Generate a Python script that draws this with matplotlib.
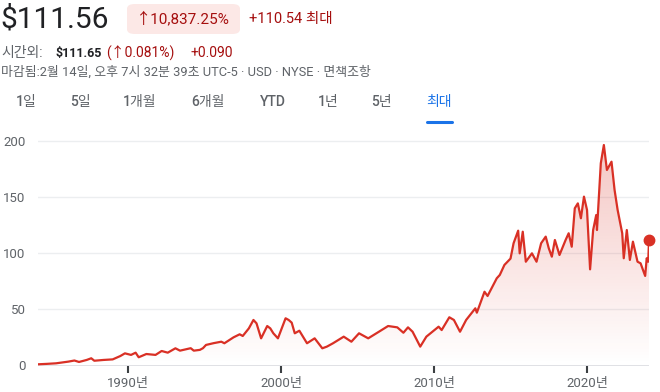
import numpy as np
import matplotlib
matplotlib.use('Agg')
import matplotlib.pyplot as plt
import matplotlib.colors as mcolors
from matplotlib.patches import FancyBboxPatch

plt.rcParams['font.family'] = ['Roboto', 'Noto Sans CJK KR', 'DejaVu Sans']

# price history (decimal year, USD)
years = [1984.1, 1984.7, 1985.3, 1986.1, 1986.5, 1986.8, 1987.3, 1987.6, 1987.8, 1988.4,
         1989.0, 1989.5, 1989.8, 1990.2, 1990.5, 1990.7, 1991.2, 1991.8, 1992.2, 1992.6,
         1993.1, 1993.4, 1994.1, 1994.3, 1994.7, 1994.9, 1995.1, 1995.6, 1996.1, 1996.3,
         1996.9, 1997.3, 1997.5, 1997.9, 1998.2, 1998.4, 1998.7, 1999.1, 1999.3, 1999.5,
         1999.8, 2000.3, 2000.5, 2000.7, 2000.9, 2001.2, 2001.7, 2002.2, 2002.7, 2003.0,
         2003.4, 2004.1, 2004.6, 2005.1, 2005.7, 2006.4, 2007.0, 2007.6, 2008.0, 2008.3,
         2008.6, 2009.1, 2009.5, 2010.3, 2010.5, 2011.0, 2011.3, 2011.7, 2012.1, 2012.7,
         2012.8, 2013.3, 2013.5, 2014.1, 2014.3, 2014.6, 2015.0, 2015.2, 2015.5, 2015.6,
         2015.8, 2016.0, 2016.4, 2016.7, 2017.0, 2017.3, 2017.5, 2017.7, 2017.9, 2018.2,
         2018.6, 2018.8, 2019.0, 2019.2, 2019.4, 2019.6, 2019.8, 2020.0, 2020.2, 2020.4,
         2020.6, 2020.65, 2020.9, 2021.1, 2021.3, 2021.6, 2021.8, 2022.0, 2022.3, 2022.4,
         2022.6, 2022.8, 2023.0, 2023.3, 2023.5, 2023.8, 2023.9, 2024.0, 2024.05]
prices = [0.6, 1.0, 1.5, 3.0, 4.0, 2.7, 4.5, 6.0, 3.8, 4.5,
          5.0, 8.0, 10.4, 9.0, 11.0, 6.9, 9.8, 9.0, 12.5, 11.0,
          14.9, 12.8, 15.0, 12.8, 13.5, 15.0, 17.9, 19.5, 20.8, 19.4,
          24.7, 27.4, 25.9, 32.7, 40.2, 37.2, 23.8, 34.8, 32.7, 28.3,
          23.8, 41.7, 40.2, 37.8, 28.3, 30.6, 19.4, 23.8, 14.9, 16.4,
          19.4, 25.3, 20.8, 28.3, 23.8, 29.7, 34.8, 33.6, 28.8, 33.6,
          29.7, 16.4, 25.3, 34.2, 31.2, 42.6, 40.2, 29.7, 40.2, 50.6,
          46.7, 65.4, 61.6, 77.4, 80.4, 89.3, 95.0, 108.7, 119.9, 99.7,
          119.0, 92.2, 99.7, 92.2, 108.7, 114.6, 104.2, 96.7, 111.6, 98.2,
          111.6, 117.6, 105.6, 139.9, 144.3, 131.0, 150.3, 138.4, 85.4, 120.5,
          133.9, 120.5, 180.1, 196.4, 174.1, 181.5, 156.3, 138.4, 117.6, 95.3,
          120.5, 93.8, 110.1, 92.2, 90.8, 79.5, 95.3, 92.2, 111.56]

y_ticks = [0, 50, 100, 150, 200]
x_ticks = [1990, 2000, 2010, 2020]
x_tick_labels = ['1990년', '2000년', '2010년', '2020년']
tabs = ['1일', '5일', '1개월', '6개월', 'YTD', '1년', '5년', '최대']
tab_x = [26, 80, 140, 208, 273, 328, 381, 439]

W, H = 660, 392
red = '#d93025'
dark_red = '#a50e0e'
gray = '#5f6368'


def px(x, y):
    # pixel position (from top-left) to figure fraction
    return x / W, 1 - y / H


def plot_chart():
    fig = plt.figure(figsize=(W / 100, H / 100), dpi=100)

    # header
    fig.text(*px(0, 20), '$111.56', fontsize=21.5, color='#202124', va='center', ha='left')
    box = FancyBboxPatch(px(127, 34), 113 / W, 30 / H, boxstyle='round,pad=0,rounding_size=0.012',
                         transform=fig.transFigure, facecolor='#fce8e6', edgecolor='none')
    fig.patches.append(box)
    fig.text(*px(136, 19), '↑10,837.25%', fontsize=11, color=dark_red, va='center', ha='left')
    fig.text(*px(249, 19), '+110.54 최대', fontsize=10.5, color=dark_red, va='center', ha='left')

    fig.text(*px(1, 53), '시간외:', fontsize=10, color=gray, va='center', ha='left')
    fig.text(*px(56, 53), '$111.65', fontsize=9, color='#202124', va='center', ha='left',
             weight='bold')
    fig.text(*px(106, 53), '(↑0.081%)', fontsize=10, color=dark_red, va='center', ha='left')
    fig.text(*px(191, 53), '+0.090', fontsize=10, color=dark_red, va='center', ha='left')
    fig.text(*px(1, 72), '마감됨:2월 14일, 오후 7시 32분 39초 UTC-5 · USD · NYSE · 면책조항',
             fontsize=9.3, color=gray, va='center', ha='left')

    for label, x in zip(tabs, tab_x):
        c = '#1a73e8' if label == '최대' else gray
        fig.text(*px(x, 102), label, fontsize=10, color=c, va='center', ha='center',
                 weight='medium')
    fig.add_artist(plt.Line2D([427 / W, 452 / W], [1 - 122 / H, 1 - 122 / H],
                              color='#1a73e8', linewidth=2.2, solid_capstyle='round'))

    # chart area
    ax = fig.add_axes([38 / W, 26 / H, 611 / W, 236 / H])
    ax.set_xlim(1984.12, 2024.05)
    ax.set_ylim(-0.9, 209.8)

    for v in y_ticks[1:]:
        ax.axhline(v, color='#eceef0', linewidth=1, zorder=0)
    ax.axhline(-0.9, color='#dadce0', linewidth=1.2, zorder=0)

    # gradient fill under the line
    grad = np.linspace(0, 1, 256)
    rgba = np.zeros((256, 1, 4))
    rgba[:, 0, :3] = mcolors.to_rgb(red)
    rgba[:, 0, 3] = grad * 0.28
    im = ax.imshow(rgba, aspect='auto', origin='lower',
                   extent=[1984.12, 2024.05, 0, 200], zorder=1)
    poly = ax.fill_between(years, prices, -0.9, color='none')
    im.set_clip_path(poly.get_paths()[0], transform=ax.transData)

    ax.plot(years, prices, color=red, linewidth=1.6, zorder=3, solid_joinstyle='round')
    ax.plot(years[-1], prices[-1], 'o', color=red, markersize=7.5, zorder=4, clip_on=False)

    for s in ax.spines.values():
        s.set_visible(False)
    ax.set_yticks(y_ticks)
    ax.set_yticklabels([str(v) for v in y_ticks])
    ax.set_xticks(x_ticks)
    ax.set_xticklabels(x_tick_labels)
    ax.tick_params(axis='y', length=0, pad=9, labelsize=9.5, labelcolor=gray)
    ax.tick_params(axis='x', length=5, width=1.5, color='#3c4043', pad=3, labelsize=9.5,
                   labelcolor=gray, direction='out')

    fig.savefig('out.png', dpi=100)


if __name__ == "__main__":
    plot_chart()
